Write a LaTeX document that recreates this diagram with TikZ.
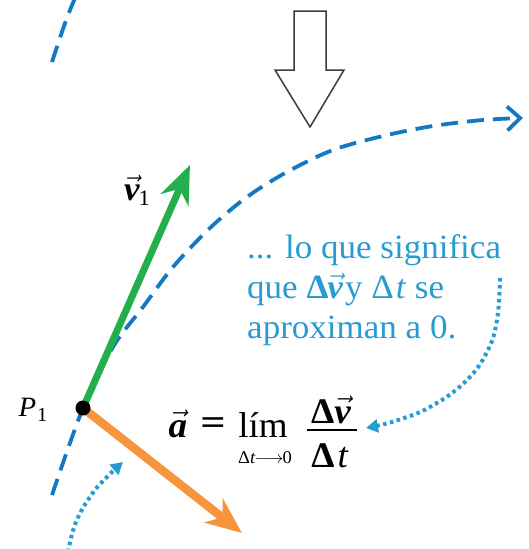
\RequirePackage{fix-cm}
\documentclass[tikz,border=0pt]{standalone}
\usepackage{amsmath}
\usepackage{graphicx}
\usepackage{fontspec}
\setmainfont{Liberation Serif}[FakeStretch=1.03]
\usetikzlibrary{arrows.meta}
\definecolor{curveblue}{RGB}{20,120,195}
\definecolor{textblue}{RGB}{40,155,210}
\definecolor{vgreen}{RGB}{35,175,75}
\definecolor{aorange}{RGB}{247,148,60}
\definecolor{outlinegray}{RGB}{60,60,60}
\begin{document}
\begin{tikzpicture}[x=1pt,y=-1pt,
  trajectory/.style={curveblue, line width=3.8pt, dash pattern=on 17pt off 9pt},
  dotpath/.style={textblue, line width=4pt, dash pattern=on 3.5pt off 3.5pt, -{Triangle[length=12pt,width=13pt]}},
  bluetext/.style={textblue, font=\fontsize{34}{40}\selectfont, anchor=base west, inner sep=0pt},
  label/.style={font=\fontsize{28}{30}\selectfont, inner sep=0pt},
  formula/.style={font=\fontsize{36}{40}\selectfont, inner sep=0pt, anchor=base}]
\useasboundingbox (0,0) rectangle (529,549);
% previous trajectory piece
\draw[trajectory] (52,62) .. controls (60,38) and (66,18) .. (76,-4);
% hollow arrow
\draw[outlinegray, line width=1.5pt, fill=white, line join=miter]
  (294,11) -- (326,11) -- (326,70) -- (344,70) -- (310,127) -- (275,70) -- (294,70) -- cycle;
% points
\coordinate (p1c) at (83,408);
\coordinate (v1tip) at (190,165);
\coordinate (atip) at (242,533);
% main trajectory
\draw[trajectory, -{Straight Barb[length=13pt,width=24pt]}]
  plot[smooth, tension=0.55] coordinates {(52,495) (83,408) (113,347) (143,307) (173,267) (210,228) (247,197) (287,172) (333,150) (383,136) (433,126) (483,120) (523,118)};
% velocity and acceleration
\draw[vgreen, line width=7pt, -{Stealth[length=38pt,width=30pt,inset=12pt]}] (p1c) -- (v1tip);
\draw[aorange, line width=8.5pt, -{Stealth[length=36pt,width=30pt,inset=11pt]}] (p1c) -- (atip);
\node[circle, fill=black, minimum size=15pt, inner sep=0pt] (p1) at (p1c) {};
\node[label, anchor=base] (p1label) at (33,416) {\itshape P\kern1pt\raisebox{-5pt}{\upshape\fontsize{20}{20}\selectfont 1}};
\node[label, anchor=base, font=\fontsize{34}{36}\selectfont] (v1label) at (137,200) {$\vec{\text{\bfseries\itshape v}}$\kern-1pt\raisebox{-5pt}{\fontsize{22}{22}\selectfont 1}};
% explanatory text
\node[bluetext] (t1) at (247,258) {... lo que significa};
\node[bluetext] (t2) at (247,298) {que {\bfseries Δ}\kern-1pt$\vec{\text{\bfseries\itshape v}}$\kern2pt y Δ\kern2pt\textit{t} se};
\node[bluetext] (t3) at (247,338) {aproximan a 0.};
% formula, set piece by piece
\node[formula] (fa) at (178,437) {$\vec{\text{\bfseries\itshape a}}$};
\node[formula, anchor=center] (feq) at (213,426) {\scalebox{1.2}[1]{\bfseries =}};
\node[formula] (flim) at (263,437) {lím};
\node[formula, font=\fontsize{18}{20}\selectfont] (fsub) at (265,463) {Δ\textit{t}\kern-1pt$\longrightarrow$\kern-1pt0};
\node[formula] (fnum) at (331,423) {{\bfseries Δ}$\vec{\text{\bfseries\itshape v}}$};
\node[formula] (fden) at (330,467) {{\bfseries Δ}\kern3pt\textit{t}};
\coordinate (barl) at (307,430);
\coordinate (barr) at (357,430);
\draw[line width=1.4pt] (barl) -- (barr);
% dotted pointers
\coordinate (d1start) at (500,278);
\coordinate (d1end) at (366,428);
\draw[dotpath] plot[smooth, tension=0.7] coordinates {(d1start) (497,320) (487,352) (465,382) (430,407) (395,421) (d1end)};
\coordinate (d2start) at (68,552);
\coordinate (d2end) at (123,462);
\draw[dotpath] plot[smooth, tension=0.7] coordinates {(d2start) (76,522) (92,494) (108,476) (d2end)};
\end{tikzpicture}
\end{document}
